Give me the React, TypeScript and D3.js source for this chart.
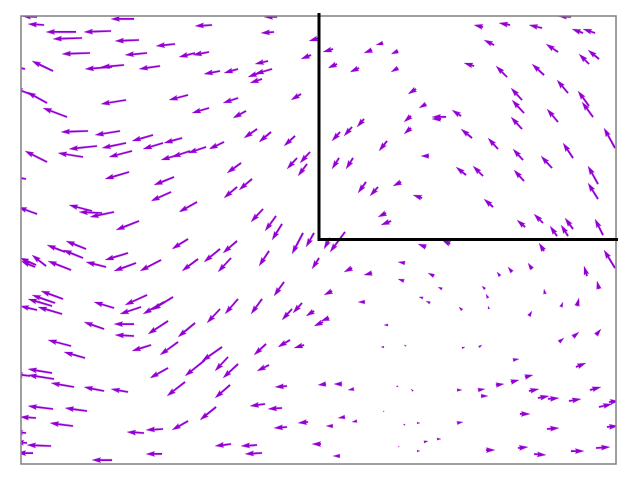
import React from "react";
import * as d3 from "d3";

// Arrow tails (x, y) and components (u, v), in data units
const X = [
  1.6,2.3,5.5,9.0,11.3,19.1,6.1,11.8,15.4,6.9,12.6,18.8,17.4,3.2,10.3,9.1,13.9,19.9,0.4,2.6,0.9,10.5,16.7,4.6,18.8,
  25.6,25.3,29.8,29.0,24.7,21.7,25.1,24.1,24.1,28.0,21.7,22.5,31.2,36.2,35.1,37.7,31.6,33.8,37.7,39.5,34.3,39.0,
  55.0,46.2,48.9,52.1,56.2,57.4,47.3,53.7,45.3,48.6,52.3,56.8,57.8,54.7,50.1,56.8,50.3,53.7,57.2,50.1,44.0,42.5,42.0,40.5,45.1,
  6.7,9.9,13.2,16.1,7.6,10.5,14.2,2.6,6.2,11.1,16.9,15.7,18.5,20.3,10.8,15.3,0.5,15.0,1.6,17.6,7.1,8.1,9.3,11.8,
  23.6,25.0,27.4,28.9,27.6,28.6,22.0,23.1,21.6,24.2,25.5,26.1,28.2,29.3,31.9,33.1,39.0,36.6,31.8,33.2,34.5,35.7,38.0,40.1,36.5,37.0,32.4,30.9,
  59.4,47.7,40.8,50.2,55.2,53.1,44.5,46.2,50.3,57.7,57.7,47.2,52.2,50.4,55.2,53.6,54.7,58.2,42.9,
  6.5,6.2,4.4,10.7,5.0,2.5,1.5,1.4,8.5,11.5,14.0,16.7,17.7,19.9,4.2,3.4,3.1,1.6,4.1,9.3,12.6,12.0,15.2,14.3,19.9,8.3,11.3,11.3,14.7,17.4,5.0,13.0,15.7,6.4,
  21.6,21.0,24.8,29.8,33.1,35.1,38.4,38.3,26.3,31.1,34.4,21.7,24.1,27.1,28.1,29.3,30.8,30.2,36.7,24.5,26.9,28.3,36.3,38.5,20.1,18.4,
  40.5,52.3,59.4,41.3,47.9,49.1,51.1,56.6,42.1,46.4,57.8,40.2,40.9,46.7,52.4,44.1,46.8,54.0,55.6,50.8,53.8,55.2,57.5,44.1,45.8,
  3.1,3.3,0.9,5.3,8.3,10.7,14.7,16.4,3.2,6.6,1.5,5.2,19.5,16.7,0.5,12.3,14.2,0.6,3.0,1.2,14.1,9.1,
  20.7,21.7,24.8,20.9,26.6,30.5,32.1,33.3,37.7,39.2,24.4,26.1,28.7,32.4,33.6,31.2,26.6,36.3,38.4,21.0,23.6,24.1,30.0,31.9,37.8,
  49.2,55.5,43.6,45.7,47.5,49.0,50.4,46.0,50.8,51.7,52.7,54.8,56.9,57.8,58.8,39.6,43.6,49.9,52.6,58.6,40.3,41.6,39.6,46.5,49.7,51.3,55.0,57.5,
];
const Y = [
  44.7,43.9,43.2,43.3,44.5,43.9,42.6,42.4,42.0,41.1,41.1,41.2,41.1,39.3,39.9,39.7,39.8,39.3,39.5,36.1,37.0,36.4,36.9,34.7,35.6,
  44.7,43.2,42.6,40.9,40.3,39.5,39.5,39.2,38.5,37.0,36.6,35.3,41.5,42.1,41.4,41.3,40.0,39.6,39.6,37.5,34.5,34.8,
  44.7,43.7,43.9,43.6,43.1,43.1,41.9,41.2,39.8,38.7,38.9,40.0,40.5,37.1,36.4,35.8,35.1,34.2,34.7,33.5,34.8,34.7,34.5,36.0,32.6,
  33.3,33.3,32.9,32.6,31.8,32.1,32.1,30.2,30.7,31.3,31.3,30.9,31.7,32.2,29.2,28.7,28.5,27.2,25.0,26.2,25.3,25.1,25.2,24.3,
  33.5,33.2,32.8,31.2,30.6,30.0,30.1,28.5,27.7,25.5,24.8,24.0,23.1,23.1,33.2,33.7,33.6,32.3,30.6,30.6,28.2,27.7,28.2,26.6,25.1,24.3,23.2,22.6,
  31.6,31.5,30.8,30.4,30.6,29.6,28.9,28.8,28.3,28.0,26.5,25.7,24.1,23.7,23.5,22.8,22.8,22.9,22.0,
  21.5,20.6,21.2,21.1,19.4,19.8,19.9,19.7,19.7,20.1,20.4,22.5,20.5,21.5,16.5,16.1,15.8,15.4,15.0,15.6,16.9,15.7,16.7,16.2,15.5,13.5,14.0,12.8,14.3,14.1,11.8,11.9,12.2,10.6,
  22.3,20.6,21.3,20.6,19.6,19.1,20.1,18.3,18.2,17.3,16.2,16.5,16.5,15.5,16.1,15.3,14.6,14.2,13.9,12.0,12.4,11.9,11.7,11.8,11.7,10.4,
  21.7,21.3,19.6,18.8,18.8,19.2,19.5,18.8,17.5,17.5,17.5,16.6,16.1,16.6,17.0,15.4,15.5,15.7,15.8,14.8,12.2,12.7,12.9,11.6,11.7,
  9.1,8.5,8.8,7.7,7.3,7.2,9.6,8.2,5.5,5.3,4.6,3.8,5.7,4.3,3.1,3.1,3.5,2.1,1.8,1.1,1.0,0.4,
  10.7,10.0,9.9,7.9,7.8,8.0,8.0,7.5,7.8,7.3,6.0,5.6,4.2,4.7,4.3,3.8,3.7,5.3,3.9,2.0,1.9,1.1,2.0,0.8,1.7,
  10.4,9.7,7.4,7.4,7.9,8.2,8.7,6.8,7.3,6.6,6.5,6.3,7.4,5.7,6.2,4.1,4.1,5.0,3.5,3.7,2.2,2.5,1.3,1.4,1.6,1.0,1.3,1.6,
];
const U = [
  -1.5,-1.6,-3.0,-2.7,-2.3,-1.7,-2.9,-2.4,-1.9,-2.8,-2.2,-1.6,-1.6,-2.1,-2.3,-2.7,-2.1,-1.6,-2.0,-2.0,-1.6,-2.5,-1.9,-2.4,-1.7,
  -1.3,-1.3,-1.0,-1.0,-1.3,-1.4,-1.7,-1.4,-1.2,-1.0,-1.5,-1.3,-1.0,-0.7,-0.8,-0.7,-0.9,-0.9,-0.7,-0.8,-0.7,-0.7,
  -1.3,-0.9,-1.1,-1.3,-1.1,-1.2,-1.0,-1.2,-1.0,-1.1,-1.2,-1.0,-1.1,-1.1,-1.1,-1.1,-1.2,-1.1,-1.1,-1.1,-0.9,-1.4,-0.9,-0.7,-1.1,
  -2.7,-2.5,-2.1,-1.8,-2.8,-2.4,-2.0,-2.2,-2.5,-2.3,-1.8,-1.7,-1.8,-1.5,-2.4,-2.0,-1.8,-2.0,-1.9,-1.8,-2.3,-2.3,-2.4,-2.3,
  -1.3,-1.2,-1.1,-1.0,-1.0,-0.9,-1.4,-1.3,-1.3,-1.2,-1.1,-1.0,-1.1,-0.8,-0.8,-0.8,-0.7,-0.8,-0.7,-0.7,-0.8,-0.8,-0.8,-0.9,-0.8,-1.0,-1.5,-0.6,
  -1.1,-1.0,-0.8,-1.0,-1.0,-1.1,-1.0,-1.0,-1.0,-1.0,-1.0,-0.9,-0.9,-0.8,-0.8,-0.7,-0.7,-0.8,-0.8,
  -2.0,-2.0,-1.8,-2.3,-2.3,-1.4,-1.6,-1.4,-2.0,-2.2,-2.1,-1.6,-1.6,-1.6,-2.2,-2.3,-2.4,-1.7,-2.4,-2.0,-2.2,-2.1,-2.1,-2.1,-1.3,-2.0,-2.0,-1.9,-2.0,-1.7,-2.3,-1.9,-1.8,-2.1,
  -1.4,-1.3,-1.0,-0.7,-0.8,-0.8,-0.7,-0.6,-1.0,-0.8,-0.7,-1.3,-1.1,-1.0,-0.9,-0.8,-0.8,-0.9,-0.4,-1.2,-1.2,-1.0,-0.3,-0.2,-2.0,-2.0,
  -0.8,-0.5,-1.1,-0.6,-0.3,-0.4,-0.4,-0.3,-0.4,-0.3,-0.2,-0.4,-0.4,-0.2,-0.1,-0.3,-0.1,0.2,0.2,0.3,0.5,0.6,0.5,0.3,0.3,
  -2.4,-2.6,-1.6,-2.3,-2.0,-1.7,-1.8,-1.8,-2.5,-2.2,-1.6,-2.3,-1.6,-1.6,-1.2,-1.7,-1.7,-1.2,-2.4,-1.6,-1.6,-2.0,
  -1.3,-1.5,-1.2,-1.5,-1.2,-0.8,-0.8,-0.6,-0.2,-0.2,-1.5,-1.4,-1.0,-0.7,-0.5,-0.7,-1.3,-0.1,-0.2,-1.6,-1.6,-1.7,-0.9,-0.7,-0.1,
  0.6,1.0,0.5,0.7,0.8,0.8,0.8,0.7,1.0,1.1,1.1,1.2,1.1,1.3,1.0,0.3,0.6,1.0,1.2,1.1,0.4,0.4,0.3,0.9,1.0,1.2,1.3,1.4,
];
const V = [
  0.1,0.1,0,-0.1,0,-0.1,-0.1,-0.1,-0.2,-0.1,-0.2,-0.3,-0.4,1.0,-0.2,-0.2,-0.3,-0.3,0.4,1.1,0.6,-0.4,-0.5,0.9,-0.5,
  0,-0.1,-0.3,-0.4,-0.3,-0.4,-0.5,-0.5,-0.4,-0.6,-0.5,-0.7,-0.3,-0.2,-0.3,-0.3,-0.4,-0.4,-0.4,-0.5,-0.8,-0.6,
  0.1,0.2,0.2,0.3,0.4,0.4,0.5,0.8,0.3,1.1,1.1,1.0,0.9,1.3,1.2,1.5,1.3,1.3,1.5,1.2,0.6,0,0,-0.4,0.9,
  -0.1,-0.4,-0.6,-0.5,-0.3,-0.5,-0.6,1.1,0.4,-0.6,-0.6,-0.5,-0.6,-0.7,-0.7,-0.8,0.3,-0.9,0.7,-1.0,0.6,0.1,-0.5,-0.9,
  -0.9,-1.0,-1.0,-1.1,-1.1,-1.2,-1.0,-1.1,-1.1,-1.3,-1.5,-1.6,-2.1,-1.4,-0.9,-0.9,-0.6,-1.0,-1.1,-1.1,-1.1,-0.9,-0.4,0.3,-0.4,-0.4,-2.0,-1.1,
  2.0,1.1,0,1.1,1.5,1.2,0.8,1.0,1.1,1.8,1.6,0.8,0.9,0.7,1.1,1.0,1.1,1.6,0.4,
  0.8,0.8,0.7,-0.7,0.9,1.1,0.7,0.6,0.5,-0.8,-1.1,-1.0,-1.2,-1.3,0.8,0.8,0.7,0.4,0.7,0.6,-1.0,-0.7,-1.3,-1.2,-1.4,0.7,0,0.1,-1.3,-1.4,0.6,-0.6,-1.3,0.6,
  -1.2,-1.4,-1.5,-1.1,-0.4,-0.2,0.1,0.2,-1.4,-0.4,0,-1.5,-1.5,-1.1,-1.0,-0.5,-0.3,-0.4,0,-1.1,-0.7,-0.3,0,0.1,-1.4,-1.6,
  0.3,0.8,1.8,0.3,0.4,0.5,0.6,1.0,0.2,0.3,0.8,0.1,0.2,0.4,0.5,0.3,0.3,0.5,0.8,0.5,0.4,0.5,0.6,0.1,0.2,
  0.4,0.4,0.2,0.4,0.4,0.3,-1.0,-1.4,0.3,0.3,0.1,0.3,-1.3,-0.9,0.1,0.1,-0.1,0.1,0.1,0,0,0,
  -1.4,-1.4,-0.6,-1.3,-0.1,-0.1,0,-0.1,-0.1,0.2,-0.2,-0.1,-0.1,-0.1,-0.1,0,-0.1,-0.1,0.1,-0.2,-0.1,-0.1,0,0,0.1,
  0.1,0.4,0,0.1,0.1,0.2,0.2,0,0.2,0.2,0.1,0.2,0.3,0.3,0.1,0,0.1,0,0.1,0.1,0.1,0,0,0,0.1,-0.1,0,0.1,
];

// Black boundary line
const LINE_X = [29.8, 29.8, 59.7];
const LINE_Y = [45.1, 22.45, 22.45];

const X_DOMAIN = [0, 59.5];
const Y_DOMAIN = [0, 44.8];

const WIDTH = 640;
const HEIGHT = 480;
const LEFT = 21;
const RIGHT = 616;
const TOP = 16;
const BOTTOM = 464;
const COLOR = "#9400d3";
const SHAFT = 1.75;

function arrowPoints(x0: number, y0: number, x1: number, y1: number): string {
  const dx = x1 - x0;
  const dy = y1 - y0;
  const L = Math.hypot(dx, dy) / SHAFT;
  const hl = 5, hw = 3, hal = 4.5;
  const yy = [-0.5, -0.5, -hw / 2, 0, hw / 2, 0.5, 0.5];
  let xs: number[];
  let ys: number[];
  if (L >= hl) {
    xs = [0, L - hal, L - hl, L, L - hl, L - hal, 0];
    ys = yy;
  } else {
    const s = Math.max(L, 0.6) / hl;
    xs = [0, hl - hal, 0, hl, 0, hl - hal, 0].map((v) => v * s);
    ys = yy.map((v) => v * s);
  }
  const a = Math.atan2(dy, dx);
  const c = Math.cos(a), sn = Math.sin(a);
  return xs
    .map((xv, i) => {
      const px = xv * SHAFT, py = ys[i] * SHAFT;
      return `${(x0 + px * c - py * sn).toFixed(2)},${(y0 + px * sn + py * c).toFixed(2)}`;
    })
    .join(" ");
}

export default function App() {
  const xScale = d3.scaleLinear().domain(X_DOMAIN).range([LEFT, RIGHT]);
  const yScale = d3.scaleLinear().domain(Y_DOMAIN).range([BOTTOM, TOP]);
  const line = d3
    .line<number>()
    .x((d) => xScale(LINE_X[d]))
    .y((d) => yScale(LINE_Y[d]));

  return (
    <svg
      width={WIDTH}
      height={HEIGHT}
      style={{ position: "absolute", left: 0, top: 0, background: "#fff" }}
    >
      <defs>
        <clipPath id="plot-clip">
          <rect x={LEFT} y={TOP} width={RIGHT - LEFT} height={BOTTOM - TOP} />
        </clipPath>
      </defs>
      <rect x={0} y={0} width={WIDTH} height={HEIGHT} fill="#fff" />
      <g clipPath="url(#plot-clip)">
        {X.map((x, i) => (
          <polygon
            key={i}
            points={arrowPoints(
              xScale(x),
              yScale(Y[i]),
              xScale(x + U[i]),
              yScale(Y[i] + V[i])
            )}
            fill={COLOR}
            stroke={COLOR}
            strokeWidth={0.2}
          />
        ))}
      </g>
      <rect
        x={LEFT}
        y={TOP}
        width={RIGHT - LEFT}
        height={BOTTOM - TOP}
        fill="none"
        stroke="#808080"
        strokeWidth={1.5}
      />
      <path
        d={line(LINE_X.map((_, i) => i)) || ""}
        fill="none"
        stroke="#000"
        strokeWidth={3}
      />
    </svg>
  );
}
